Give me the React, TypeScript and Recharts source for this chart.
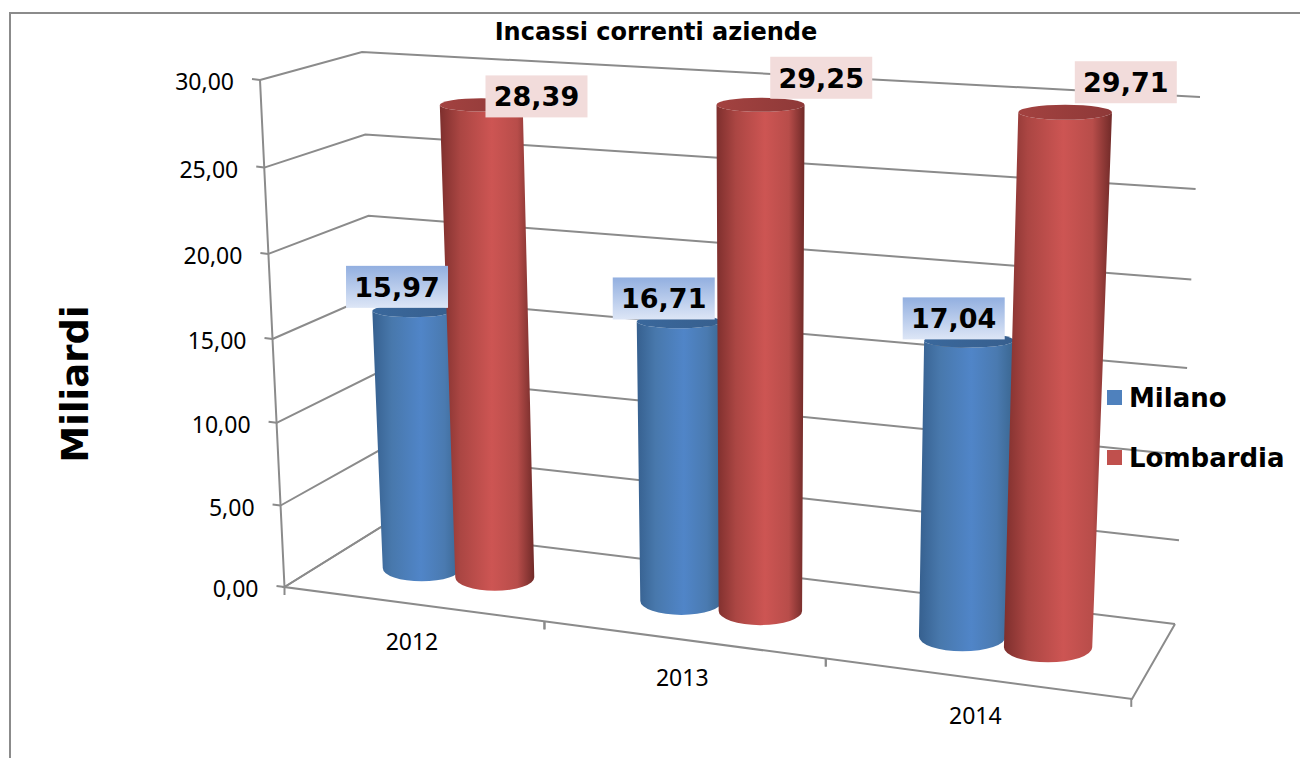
import React from "react";
import {
  BarChart,
  Bar,
  XAxis,
  YAxis,
  CartesianGrid,
  Legend,
  LabelList,
  ReferenceLine,
} from "recharts";

// Series and axis content
const categories = ["2012", "2013", "2014"];
const milano = [15.97, 16.71, 17.04];
const lombardia = [28.39, 29.25, 29.71];
const yTicks = [0, 5, 10, 15, 20, 25, 30];
const chartTitle = "Incassi correnti aziende";
const yTitle = "Miliardi";

const tableRows = categories.map((year, i) => ({
  year,
  Milano: milano[i],
  Lombardia: lombardia[i],
}));

// Flat plot rectangle that the library lays out; everything is then warped into 3D.
const PLOT = { left: 285, top: 80, width: 850, height: 507 };
const SANS = "'Noto Sans', sans-serif";
const WIDE = "'DejaVu Sans', Verdana, sans-serif";
const RULE = "#8b8b8b";

type Pt = [number, number];

// Projective map of the unit square onto a quad (u along the axis, v upward).
function quadMap(p0: Pt, p1: Pt, p2: Pt, p3: Pt) {
  const dx1 = p1[0] - p2[0];
  const dx2 = p3[0] - p2[0];
  const sx = p0[0] - p1[0] + p2[0] - p3[0];
  const dy1 = p1[1] - p2[1];
  const dy2 = p3[1] - p2[1];
  const sy = p0[1] - p1[1] + p2[1] - p3[1];
  const den = dx1 * dy2 - dx2 * dy1;
  const g = (sx * dy2 - dx2 * sy) / den;
  const h = (dx1 * sy - sx * dy1) / den;
  const a = p1[0] - p0[0] + g * p1[0];
  const b = p3[0] - p0[0] + h * p3[0];
  const d = p1[1] - p0[1] + g * p1[1];
  const e = p3[1] - p0[1] + h * p3[1];
  return (u: number, v: number): Pt => {
    const w = g * u + h * v + 1;
    return [(a * u + b * v + p0[0]) / w, (d * u + e * v + p0[1]) / w];
  };
}

const backWall = quadMap([381, 527], [1175, 624], [1200, 97], [362, 52]);
const barPlane = quadMap([334, 557], [1156, 661], [1180, 112.6], [311.5, 68]);
const FRONT_LEFT_BOTTOM: Pt = [284.5, 587];
const FRONT_LEFT_TOP: Pt = [260, 80];
const FRONT_RIGHT: Pt = [1132, 699];

// Position along the front floor edge, foreshortened toward the left.
const frontEdge = (u: number): Pt => {
  const w = 1 - 0.114 * u;
  const x = (FRONT_LEFT_BOTTOM[0] + 717.8 * u) / w;
  const t = (x - FRONT_LEFT_BOTTOM[0]) / (FRONT_RIGHT[0] - FRONT_LEFT_BOTTOM[0]);
  return [x, FRONT_LEFT_BOTTOM[1] + t * (FRONT_RIGHT[1] - FRONT_LEFT_BOTTOM[1])];
};

const toU = (x: number) => (x - PLOT.left) / PLOT.width;
const toV = (y: number) => (PLOT.top + PLOT.height - y) / PLOT.height;

// Upright value axis; its divisions open up slightly toward the top.
const sideAxis = (v: number): Pt => {
  const t = (1.0 - 0.0425) * v / (1 - 0.0425 * v);
  return [
    FRONT_LEFT_BOTTOM[0] + t * (FRONT_LEFT_TOP[0] - FRONT_LEFT_BOTTOM[0]),
    FRONT_LEFT_BOTTOM[1] + t * (FRONT_LEFT_TOP[1] - FRONT_LEFT_BOTTOM[1]),
  ];
};
const pathOf = (pts: Pt[]) =>
  pts.map((p, i) => `${i ? "L" : "M"}${p[0].toFixed(1)} ${p[1].toFixed(1)}`).join(" ");

// One gridline: left wall segment, then across the back wall.
const WallLine = (props: any) => {
  const v = toV(props.y1);
  return (
    <path
      key={`wall-${props.index}`}
      d={pathOf([sideAxis(v), backWall(0, v), backWall(1, v)])}
      fill="none"
      stroke={RULE}
      strokeWidth={2}
    />
  );
};

// Floor outline and the upright value axis.
const FloorFrame = () => {
  const bl = backWall(0, 0);
  const br = backWall(1, 0);
  return (
    <path
      d={`${pathOf([bl, FRONT_LEFT_BOTTOM, FRONT_RIGHT, br])} ${pathOf([FRONT_LEFT_BOTTOM, FRONT_LEFT_TOP])}`}
      fill="none"
      stroke={RULE}
      strokeWidth={2}
    />
  );
};

const ValueTick = (props: any) => {
  const v = toV(props.y);
  const [ax, ay] = sideAxis(v);
  const label = Number(props.payload.value).toFixed(2).replace(".", ",");
  return (
    <g>
      <line x1={ax - 8} y1={ay - 1} x2={ax} y2={ay} stroke={RULE} strokeWidth={2} />
      <text x={ax - 26} y={ay + 10} textAnchor="end" fontFamily={SANS} fontSize={23} fill="#000">
        {label}
      </text>
    </g>
  );
};

const YearTick = (props: any) => {
  const u = toU(props.x);
  const band = 1 / categories.length;
  const [x, y] = frontEdge(u);
  const marks = [u - band / 2, u + band / 2].map(frontEdge);
  return (
    <g>
      {marks.map((m, i) => (
        <line key={i} x1={m[0]} y1={m[1]} x2={m[0]} y2={m[1] + 8} stroke={RULE} strokeWidth={2} />
      ))}
      <text x={x} y={y + 46} textAnchor="middle" fontFamily={SANS} fontSize={23} fill="#000">
        {props.payload.value}
      </text>
    </g>
  );
};

// Cylinder built from the bar rectangle the library computed.
const Cylinder = (props: any) => {
  const { x, y, width, name } = props;
  const u0 = toU(x);
  const u1 = toU(x + width);
  const v = toV(y);
  // Cylinders widen a little less than the wall perspective toward the right.
  const trim = 1 - 0.07 * (u0 + u1) / 2;
  const baseL = barPlane(u0, 0);
  const baseR = barPlane(u1, 0);
  const topL = barPlane(u0, v);
  const topR = barPlane(u1, v);
  const bx = (baseL[0] + baseR[0]) / 2;
  const by = (baseL[1] + baseR[1]) / 2;
  const brx = ((baseR[0] - baseL[0]) / 2) * trim;
  const bry = brx * 0.34;
  const tx = (topL[0] + topR[0]) / 2;
  const ty = (topL[1] + topR[1]) / 2;
  const trx = ((topR[0] - topL[0]) / 2) * trim;
  const tryy = trx * 0.16;
  const kind = name === "Milano" ? "Blue" : "Red";
  const body =
    `M${tx - trx} ${ty} L${bx - brx} ${by} ` +
    `A${brx} ${bry} 0 0 0 ${bx + brx} ${by} ` +
    `L${tx + trx} ${ty} A${trx} ${tryy} 0 0 1 ${tx - trx} ${ty} Z`;
  return (
    <g>
      <path d={body} fill={`url(#body${kind})`} />
      <ellipse cx={tx} cy={ty} rx={trx} ry={tryy} fill={`url(#lid${kind})`} />
    </g>
  );
};

// Offsets of the value tags from the top of each cylinder
const milanoTagShift: Pt[] = [[-15, -24], [-15, -23], [-15, -22]];
const lombardiaTagShift: Pt[] = [[55.5, -8.5], [61, -27], [61, -30]];

const makeTag = (values: number[], shifts: Pt[], fill: string) => (props: any) => {
  const box = props.viewBox ?? props;
  const i = props.index;
  const u = toU(box.x + box.width / 2);
  const [cx, cy] = barPlane(u, values[i] / 30);
  const mx = cx + shifts[i][0];
  const my = cy + shifts[i][1];
  return (
    <g>
      <rect x={mx - 51} y={my - 21} width={102} height={42} fill={fill} />
      <text
        x={mx}
        y={my + 10}
        textAnchor="middle"
        fontFamily={WIDE}
        fontWeight="bold"
        fontSize={27}
        fill="#000"
      >
        {values[i].toFixed(2).replace(".", ",")}
      </text>
    </g>
  );
};

const LegendBlock = (props: any) => (
  <div style={{ position: "relative", width: 190, height: 90 }}>
    {(props.payload ?? []).map((item: any, i: number) => (
      <div
        key={item.value}
        style={{
          position: "absolute",
          left: 0,
          top: i * 60,
          height: 30,
          whiteSpace: "nowrap",
          fontFamily: WIDE,
          fontWeight: "bold",
          fontSize: 26,
          lineHeight: "30px",
          color: "#000",
        }}
      >
        <span
          style={{
            position: "absolute",
            left: 0,
            top: 8,
            width: 15,
            height: 15,
            background: item.color,
          }}
        />
        <span style={{ position: "absolute", left: 22, top: 1 }}>{item.value}</span>
      </div>
    ))}
  </div>
);

const cylinderStops = (edgeA: string, soft: string, mid: string, soft2: string, edgeB: string) => (
  <>
    <stop offset="0%" stopColor={edgeA} />
    <stop offset="22%" stopColor={soft} />
    <stop offset="55%" stopColor={mid} />
    <stop offset="82%" stopColor={soft2} />
    <stop offset="100%" stopColor={edgeB} />
  </>
);

export default function App() {
  return (
    <div
      style={{
        position: "absolute",
        left: 0,
        top: 0,
        width: 1300,
        height: 758,
        background: "#fff",
        overflow: "hidden",
      }}
    >
      <div
        style={{
          position: "absolute",
          left: 9,
          top: 12,
          width: 1300,
          height: 760,
          borderLeft: `2px solid ${RULE}`,
          borderTop: `2px solid ${RULE}`,
        }}
      />
      <div style={{ position: "absolute", left: 0, top: 0 }}>
        <BarChart
          width={1300}
          height={758}
          data={tableRows}
          margin={{ left: 185, right: 165, top: PLOT.top, bottom: 111 }}
          barSize={89}
          barGap={-7}
          barCategoryGap={0}
        >
          <defs>
            <linearGradient id="bodyBlue" x1="0" y1="0" x2="1" y2="0">
              {cylinderStops("#36608f", "#4878ac", "#5085c8", "#4a7ab0", "#3a6690")}
            </linearGradient>
            <linearGradient id="bodyRed" x1="0" y1="0" x2="1" y2="0">
              {cylinderStops("#7e2f2d", "#ab4643", "#cd5553", "#b84d4a", "#702a28")}
            </linearGradient>
            <linearGradient id="lidBlue" x1="0" y1="0" x2="1" y2="0">
              <stop offset="0%" stopColor="#3a689c" />
              <stop offset="100%" stopColor="#375f8e" />
            </linearGradient>
            <linearGradient id="lidRed" x1="0" y1="0" x2="1" y2="0">
              <stop offset="0%" stopColor="#a34240" />
              <stop offset="100%" stopColor="#8e3938" />
            </linearGradient>
            <linearGradient id="tagBlue" x1="0" y1="0" x2="0" y2="1">
              <stop offset="0%" stopColor="#92afe0" />
              <stop offset="100%" stopColor="#dde6f6" />
            </linearGradient>
          </defs>
          <CartesianGrid horizontal={WallLine} vertical={false} />
          <XAxis
            dataKey="year"
            height={60}
            axisLine={false}
            tickLine={false}
            tick={YearTick}
            interval={0}
          />
          <YAxis
            width={100}
            domain={[0, 30]}
            ticks={yTicks}
            axisLine={false}
            tickLine={false}
            tick={ValueTick}
          />
          <ReferenceLine y={0} shape={FloorFrame} />
          <Legend
            layout="vertical"
            align="center"
            verticalAlign="middle"
            itemSorter={null}
            content={LegendBlock}
            wrapperStyle={{ position: "absolute", left: 1107, top: 382, width: 190 }}
          />
          <Bar dataKey="Milano" name="Milano" fill="#4f81bd" shape={Cylinder} isAnimationActive={false}>
            <LabelList dataKey="Milano" content={makeTag(milano, milanoTagShift, "url(#tagBlue)")} />
          </Bar>
          <Bar dataKey="Lombardia" name="Lombardia" fill="#c0504d" shape={Cylinder} isAnimationActive={false}>
            <LabelList dataKey="Lombardia" content={makeTag(lombardia, lombardiaTagShift, "#f2dcdb")} />
          </Bar>
          <text
            x={656}
            y={40}
            textAnchor="middle"
            fontFamily={WIDE}
            fontWeight="bold"
            fontSize={24}
            fill="#000"
          >
            {chartTitle}
          </text>
          <text
            transform="translate(88 384) rotate(-90)"
            textAnchor="middle"
            fontFamily={WIDE}
            fontWeight="bold"
            fontSize={37}
            fill="#000"
          >
            {yTitle}
          </text>
        </BarChart>
      </div>
    </div>
  );
}
